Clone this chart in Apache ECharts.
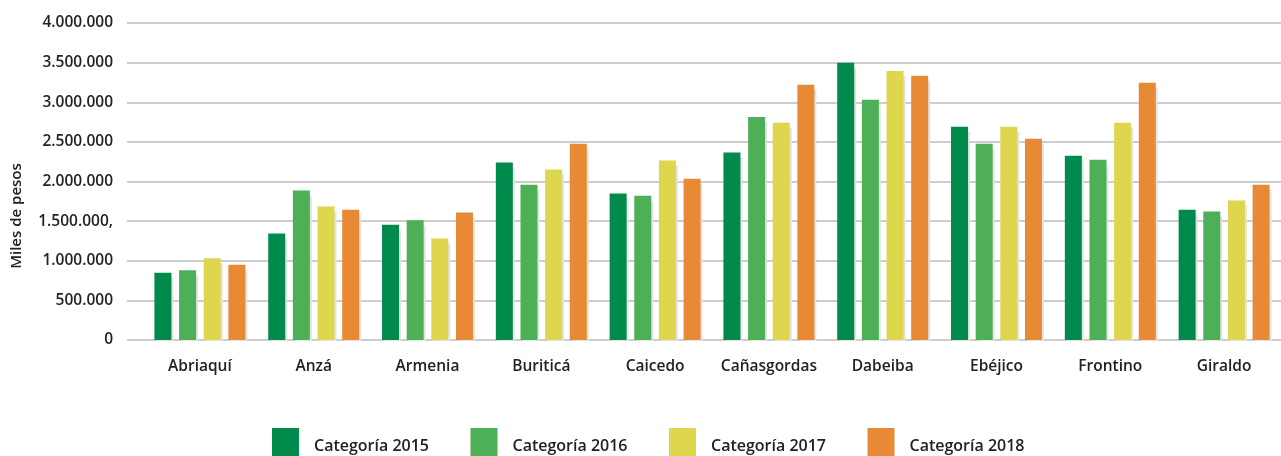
<!DOCTYPE html>
<html>
<head>
<meta charset="utf-8">
<title>Miles de pesos por municipio</title>
<script src="https://cdn.jsdelivr.net/npm/echarts@6/dist/echarts.min.js"></script>
<style>
  html, body { margin: 0; padding: 0; background: #ffffff; }
  #chart { width: 1281px; height: 456px; }
</style>
</head>
<body>
<div id="chart"></div>
<script>
// Municipios
const categories = ['Abriaquí', 'Anzá', 'Armenia', 'Buriticá', 'Caicedo', 'Cañasgordas', 'Dabeiba', 'Ebéjico', 'Frontino', 'Giraldo'];

// Valores en miles de pesos
const values2015 = [850000, 1345000, 1455000, 2240000, 1850000, 2365000, 3500000, 2690000, 2325000, 1645000];
const values2016 = [880000, 1885000, 1510000, 1960000, 1820000, 2815000, 3030000, 2475000, 2275000, 1620000];
const values2017 = [1030000, 1685000, 1280000, 2150000, 2265000, 2740000, 3395000, 2690000, 2740000, 1760000];
const values2018 = [950000, 1645000, 1610000, 2475000, 2035000, 3220000, 3335000, 2540000, 3245000, 1960000];

const seriesNames = ['Categoría 2015', 'Categoría 2016', 'Categoría 2017', 'Categoría 2018'];
const seriesColors = ['#008a4b', '#4eb056', '#ded64c', '#e88a35'];

// Etiquetas del eje vertical, de 0 a 4.000.000
const yTickLabels = ['0', '500.000', '1.000.000', '1.500.000,', '2.000.000', '2.500.000', '3.000.000', '3.500.000', '4.000.000'];
const yMax = 4000000;
const yStep = 500000;

const font = '"Open Sans", "Noto Sans", sans-serif';
const textColor = '#222222';
const gridColor = '#bdbdbd';

const seriesData = [values2015, values2016, values2017, values2018];

const chart = echarts.init(document.getElementById('chart'), null, { renderer: 'canvas' });

const option = {
  backgroundColor: '#ffffff',
  animation: false,
  textStyle: { fontFamily: font },
  grid: [
    // Rejilla de fondo: líneas horizontales y etiquetas del eje Y
    { left: 127, right: 0, top: 23, bottom: 116 },
    // Rejilla de las barras
    { left: 143, right: -5, top: 23, bottom: 116 }
  ],
  xAxis: [
    { gridIndex: 0, type: 'category', data: [''], show: false },
    {
      gridIndex: 1,
      type: 'category',
      data: categories,
      axisLine: { show: false },
      axisTick: { show: false },
      axisLabel: {
        interval: 0,
        margin: 19,
        color: textColor,
        fontFamily: font,
        fontWeight: 600,
        fontSize: 15.5
      }
    }
  ],
  yAxis: [
    {
      gridIndex: 0,
      type: 'value',
      min: 0,
      max: yMax,
      interval: yStep,
      axisLine: { show: false },
      axisTick: { show: false },
      splitLine: { show: true, lineStyle: { color: gridColor, width: 1.6 } },
      axisLabel: {
        margin: 14,
        color: textColor,
        fontFamily: font,
        fontWeight: 600,
        fontSize: 15.5,
        formatter: function (v) {
          return yTickLabels[Math.round(v / yStep)];
        }
      }
    },
    {
      gridIndex: 1,
      type: 'value',
      min: 0,
      max: yMax,
      interval: yStep,
      show: false,
      splitLine: { show: false }
    }
  ],
  legend: {
    left: 272,
    top: 428,
    padding: 0,
    itemWidth: 27,
    itemHeight: 36,
    itemGap: 41.5,
    icon: 'rect',
    data: seriesNames,
    textStyle: {
      color: textColor,
      fontFamily: font,
      fontWeight: 600,
      fontSize: 16,
      padding: [8, 0, 0, 10]
    }
  },
  graphic: [
    {
      type: 'text',
      x: 17,
      y: 216,
      rotation: Math.PI / 2,
      style: {
        text: 'Miles de pesos',
        fill: textColor,
        font: '600 15px ' + font,
        align: 'center',
        verticalAlign: 'middle'
      }
    },
    {
      // Oculta la sombra de las barras por debajo de la línea base
      type: 'rect',
      z: 100,
      silent: true,
      shape: { x: 127, y: 341, width: 1154, height: 8 },
      style: { fill: '#ffffff' }
    }
  ],
  series: seriesNames.map(function (name, i) {
    return {
      name: name,
      type: 'bar',
      xAxisIndex: 1,
      yAxisIndex: 1,
      data: seriesData[i],
      barWidth: 17,
      barGap: '45%',
      itemStyle: {
        color: seriesColors[i],
        shadowColor: '#e3e3e6',
        shadowBlur: 0,
        shadowOffsetX: 2,
        shadowOffsetY: 5
      }
    };
  })
};

chart.setOption(option);
</script>
</body>
</html>
